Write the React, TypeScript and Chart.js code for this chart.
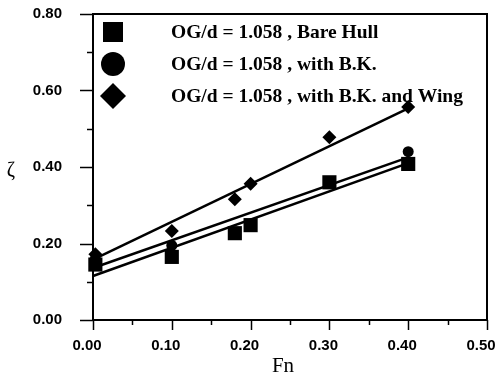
import React, { useEffect, useRef } from "react";
import { Chart, registerables } from "chart.js";

Chart.register(...registerables);

// Data
const seriesLabels = [
  "OG/d = 1.058 , Bare Hull",
  "OG/d = 1.058 , with B.K.",
  "OG/d = 1.058 , with B.K. and Wing",
];
const bareHullFn = [0.003, 0.1, 0.18, 0.2, 0.3, 0.4];
const bareHullZeta = [0.145, 0.165, 0.227, 0.248, 0.36, 0.408];
const bkFn = [0.003, 0.1, 0.4];
const bkZeta = [0.16, 0.195, 0.44];
const wingFn = [0.003, 0.1, 0.18, 0.2, 0.3, 0.4];
const wingZeta = [0.172, 0.233, 0.316, 0.356, 0.478, 0.557];
// linear fits (start/end at Fn = 0 and 0.4)
const fitFn = [0, 0.4];
const fitBare = [0.115, 0.41];
const fitBK = [0.136, 0.425];
const fitWing = [0.158, 0.553];
const xTicks = [0, 0.1, 0.2, 0.3, 0.4, 0.5];
const yTicks = [0, 0.2, 0.4, 0.6, 0.8];

const pts = (xs: number[], ys: number[]) => xs.map((x, i) => ({ x, y: ys[i] }));

const SERIF = "'Liberation Serif', 'Times New Roman', serif";
const SANS = "'Liberation Sans', Arial, sans-serif";

const decorPlugin = {
  id: "decor",
  afterDraw(chart: any) {
    const ctx = chart.ctx;
    const { left, right, top, bottom } = chart.chartArea;
    const xs = chart.scales.x;
    const ys = chart.scales.y;
    ctx.save();
    ctx.strokeStyle = "#000";
    ctx.fillStyle = "#000";
    ctx.lineWidth = 2;
    ctx.strokeRect(left, top, right - left, bottom - top);
    // y ticks
    ctx.lineWidth = 1.5;
    for (let i = 0; i <= 8; i++) {
      const v = i * 0.1;
      const py = Math.round(ys.getPixelForValue(v)) + 0.5;
      const len = i % 2 === 0 ? 13 : 6;
      ctx.beginPath();
      ctx.moveTo(left - len, py);
      ctx.lineTo(left, py);
      ctx.stroke();
    }
    // x ticks
    for (let i = 0; i <= 10; i++) {
      const v = i * 0.05;
      const px = Math.round(xs.getPixelForValue(v)) + 0.5;
      const len = i % 2 === 0 ? 10 : 5;
      ctx.beginPath();
      ctx.moveTo(px, bottom);
      ctx.lineTo(px, bottom + len);
      ctx.stroke();
    }
    // axis titles
    ctx.textAlign = "center";
    ctx.textBaseline = "middle";
    ctx.font = `20px ${SERIF}`;
    ctx.fillText("\u03b6", 11, (top + bottom) / 2 + 4);
    ctx.font = `21px ${SERIF}`;
    ctx.fillText("Fn", 283, 366);
    // legend
    const styles = ["rect", "circle", "rectRot"];
    const radii = [14, 12, 13];
    const cy = [32, 64, 96];
    const mx = 113;
    for (let i = 0; i < 3; i++) {
      ctx.beginPath();
      const r = radii[i];
      if (styles[i] === "rect") {
        ctx.fillRect(mx - 10, cy[i] - 10, 20, 20);
      } else if (styles[i] === "circle") {
        ctx.arc(mx, cy[i], r, 0, Math.PI * 2);
        ctx.fill();
      } else {
        ctx.moveTo(mx, cy[i] - r);
        ctx.lineTo(mx + r, cy[i]);
        ctx.lineTo(mx, cy[i] + r);
        ctx.lineTo(mx - r, cy[i]);
        ctx.closePath();
        ctx.fill();
      }
      ctx.font = `bold 19.5px ${SERIF}`;
      ctx.textAlign = "left";
      ctx.textBaseline = "alphabetic";
      ctx.fillText(seriesLabels[i], 171, cy[i] + 6);
    }
    ctx.restore();
  },
};

export default function App() {
  const ref = useRef<HTMLCanvasElement | null>(null);
  useEffect(() => {
    if (!ref.current) return;
    const chart = new Chart(ref.current, {
      type: "scatter",
      data: {
        datasets: [
          {
            label: "fitBare",
            data: pts(fitFn, fitBare),
            showLine: true,
            borderColor: "#000",
            borderWidth: 2.5,
            pointRadius: 0,
          },
          {
            label: "fitBK",
            data: pts(fitFn, fitBK),
            showLine: true,
            borderColor: "#000",
            borderWidth: 2.5,
            pointRadius: 0,
          },
          {
            label: "fitWing",
            data: pts(fitFn, fitWing),
            showLine: true,
            borderColor: "#000",
            borderWidth: 2.5,
            pointRadius: 0,
          },
          {
            label: seriesLabels[1],
            data: pts(bkFn, bkZeta),
            pointStyle: "circle",
            pointRadius: 5.5,
            backgroundColor: "#000",
            borderColor: "#000",
            borderWidth: 0,
          },
          {
            label: seriesLabels[0],
            data: pts(bareHullFn, bareHullZeta),
            pointStyle: "rect",
            pointRadius: 10,
            backgroundColor: "#000",
            borderColor: "#000",
            borderWidth: 0,
          },
          {
            label: seriesLabels[2],
            data: pts(wingFn, wingZeta),
            pointStyle: "rectRot",
            pointRadius: 7,
            backgroundColor: "#000",
            borderColor: "#000",
            borderWidth: 0,
          },
        ] as any,
      },
      options: {
        animation: false,
        responsive: false,
        clip: false as any,
        layout: { padding: { left: 0, top: 14, right: 11, bottom: 0 } },
        plugins: { legend: { display: false }, tooltip: { enabled: false } },
        scales: {
          x: {
            type: "linear",
            min: 0,
            max: 0.5,
            afterFit: (s: any) => {
              s.height = 58;
              s.paddingLeft = 0;
              s.paddingRight = 0;
            },
            afterBuildTicks: (s: any) => {
              s.ticks = xTicks.map((v) => ({ value: v }));
            },
            grid: { display: false, drawTicks: false, tickLength: 0 },
            border: { display: false },
            ticks: {
              padding: 17,
              labelOffset: -6,
              color: "#000",
              font: { family: SANS, size: 15, weight: "bold" },
              callback: (v: any) => Number(v).toFixed(2),
            },
          },
          y: {
            type: "linear",
            min: 0,
            max: 0.8,
            afterFit: (s: any) => {
              s.width = 93;
              s.paddingTop = 0;
              s.paddingBottom = 0;
            },
            afterBuildTicks: (s: any) => {
              s.ticks = yTicks.map((v) => ({ value: v }));
            },
            grid: { display: false, drawTicks: false, tickLength: 0 },
            border: { display: false },
            ticks: {
              padding: 31,
              color: "#000",
              font: { family: SANS, size: 15, weight: "bold" },
              callback: (v: any) => Number(v).toFixed(2),
            },
          },
        },
      },
      plugins: [decorPlugin],
    });
    return () => chart.destroy();
  }, []);
  return (
    <div style={{ position: "fixed", left: 0, top: 0, width: 498, height: 378, background: "#fff" }}>
      <canvas ref={ref} width={498} height={378} />
    </div>
  );
}
